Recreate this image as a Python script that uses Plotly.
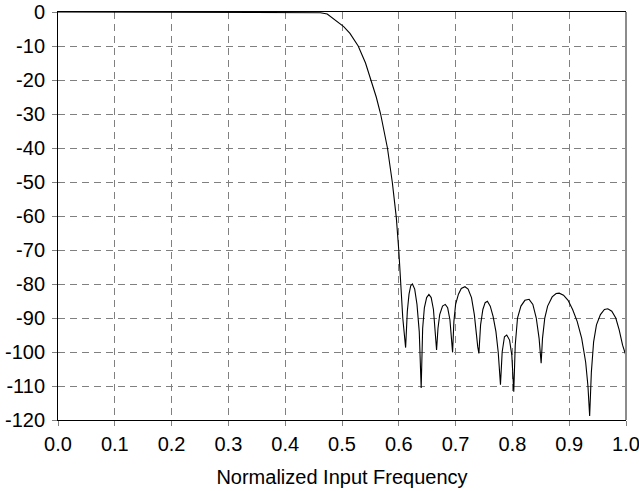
import plotly.graph_objects as go

# Normalized input frequency and magnitude response (dB)
freq = [0.0, 0.45, 0.462, 0.474, 0.489, 0.503, 0.514, 0.5285, 0.5414, 0.5515, 0.5603,
        0.568, 0.574, 0.580, 0.5885, 0.5956, 0.600, 0.603, 0.605, 0.607, 0.612,
        0.615, 0.618, 0.621, 0.624, 0.628, 0.632, 0.636, 0.6394,
        0.642, 0.645, 0.649, 0.653, 0.657, 0.661, 0.664, 0.6665,
        0.669, 0.672, 0.677, 0.6818, 0.686, 0.69, 0.6947,
        0.697, 0.700, 0.705, 0.710, 0.7165, 0.722, 0.728, 0.733, 0.737, 0.739, 0.741,
        0.744, 0.748, 0.752, 0.756, 0.761, 0.766, 0.771, 0.775, 0.779,
        0.782, 0.786, 0.790, 0.795, 0.799, 0.8024,
        0.805, 0.809, 0.815, 0.822, 0.8294, 0.836, 0.842, 0.847, 0.8506,
        0.853, 0.857, 0.862, 0.870, 0.877, 0.8824, 0.890, 0.898, 0.906, 0.914, 0.922,
        0.929, 0.933, 0.936,
        0.939, 0.943, 0.948, 0.955, 0.962, 0.968, 0.975, 0.982, 0.988, 0.994, 1.0]
mag_db = [0, 0, -0.2, -0.6, -2.4, -4.3, -6.3, -10, -15, -20, -25,
          -30, -35, -40, -50, -60.4, -70.2, -80, -86, -90, -98.7,
          -88, -83, -80.5, -80, -81.5, -86, -94, -110.6,
          -93, -87, -84, -83.1, -84, -87.5, -93, -99.4,
          -93, -89, -86.5, -86, -87, -90.5, -100.1,
          -91, -86, -83, -81.3, -80.8, -81.5, -84, -89, -97, -98.5, -100.4,
          -92, -87.5, -85.5, -85.1, -86.5, -89.5, -94, -100, -109.6,
          -100, -95.5, -95, -96.5, -101, -111.7,
          -98, -90, -86.5, -84.8, -84.5, -86, -90, -96, -103.3,
          -96, -90, -86.5, -83.8, -82.8, -82.7, -83.3, -84.8, -87.5, -91, -96,
          -103, -110, -118.8,
          -106, -97, -92, -89, -87.5, -87.3, -88, -90, -93.5, -98, -101.1]

x_ticks = [0.0, 0.1, 0.2, 0.3, 0.4, 0.5, 0.6, 0.7, 0.8, 0.9, 1.0]
x_tick_labels = ["0.0", "0.1", "0.2", "0.3", "0.4", "0.5", "0.6", "0.7", "0.8", "0.9", "1.0"]
y_ticks = [0, -10, -20, -30, -40, -50, -60, -70, -80, -90, -100, -110, -120]
y_tick_labels = ["0", "-10", "-20", "-30", "-40", "-50", "-60", "-70", "-80", "-90",
                 "-100", "-110", "-120"]

FONT = "Liberation Sans, Arial, sans-serif"

fig = go.Figure()
fig.add_trace(go.Scatter(x=freq, y=mag_db, mode="lines",
                         line=dict(color="black", width=1.1),
                         showlegend=False, hoverinfo="x+y"))

fig.update_layout(
    width=639, height=491,
    margin=dict(l=58, r=13, t=12, b=71),
    paper_bgcolor="white", plot_bgcolor="white",
    font=dict(family=FONT, size=20, color="black"),
    xaxis=dict(
        range=[0, 1], tickvals=x_ticks, ticktext=x_tick_labels,
        showgrid=True, gridcolor="#808080", gridwidth=1, griddash="7px,5px",
        showline=True, linecolor="black", linewidth=1, mirror=True,
        ticks="outside", ticklen=5, tickcolor="#808080", tickwidth=1,
        ticklabelstandoff=1, ticklabeloverflow="allow", zeroline=False,
        automargin=False,
        title=dict(text="Normalized Input Frequency", standoff=15,
                   font=dict(family=FONT, size=20)),
    ),
    yaxis=dict(
        range=[-120, 0], tickvals=y_ticks, ticktext=y_tick_labels,
        showgrid=True, gridcolor="#808080", gridwidth=1, griddash="7px,5px",
        showline=True, linecolor="black", linewidth=1,
        ticks="outside", ticklen=5, tickcolor="#808080", tickwidth=1,
        ticklabelstandoff=3, ticklabeloverflow="allow", zeroline=False,
        automargin=False,
    ),
)

# right border drawn in gray as in the reference
fig.add_shape(type="line", xref="x domain", yref="y domain",
              x0=1, x1=1, y0=0, y1=1, line=dict(color="#8c8c8c", width=2))

fig.write_html("out.html",
               config={"displayModeBar": False},
               post_script="document.body.style.margin='0';document.body.style.overflow='hidden';")
